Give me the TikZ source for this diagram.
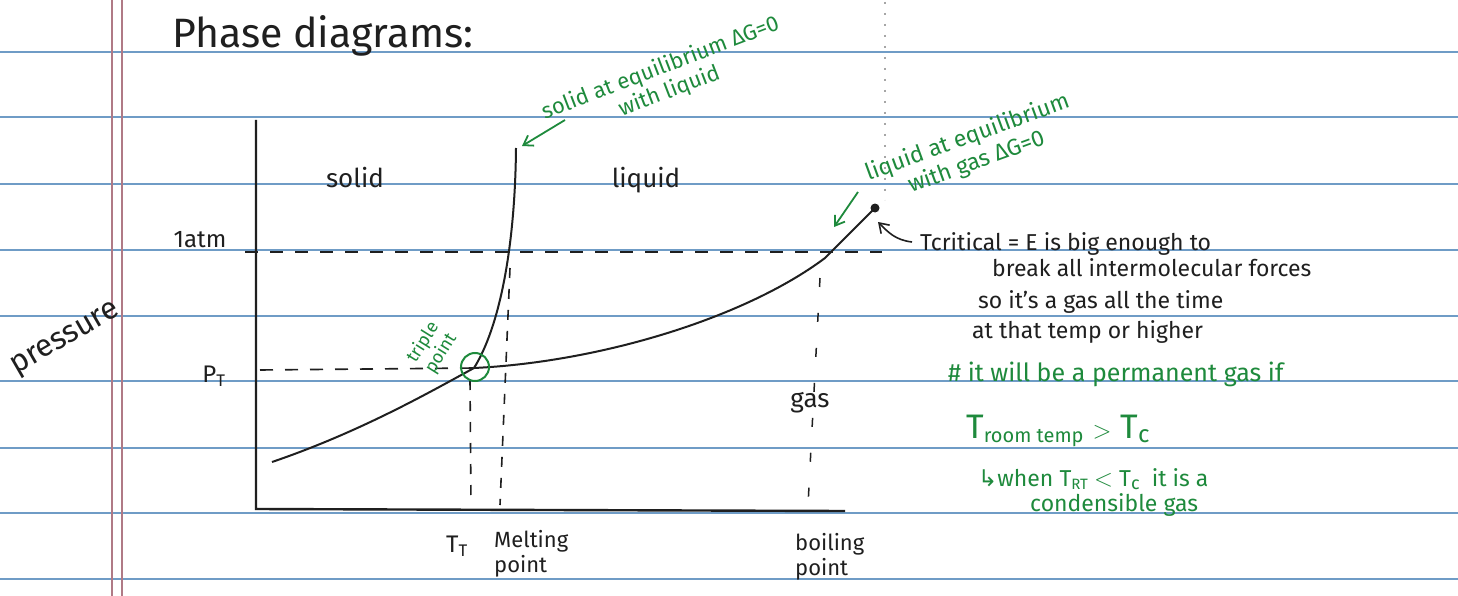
\documentclass[tikz,border=0pt]{standalone}
\usepackage{fontspec}
\setmainfont{Fira Sans}
\newfontfamily\symfont{DejaVu Sans}
\usetikzlibrary{arrows.meta}
\definecolor{rule}{HTML}{6F9CC6}
\definecolor{margin}{HTML}{B07A86}
\definecolor{pen}{HTML}{1F1F1F}
\definecolor{gpen}{HTML}{1E8A3C}
\tikzset{
  ruleline/.style={rule, line width=1.6pt},
  marginline/.style={margin, line width=1.3pt},
  axis/.style={pen, line width=2.4pt},
  curve/.style={pen, line width=2pt},
  guide/.style={pen, line width=1.6pt, dash pattern=on 13pt off 12pt},
  guidev/.style={pen, line width=1.6pt, dash pattern=on 10pt off 11pt},
  hand/.style={pen, inner sep=0pt, font=\fontsize{#1}{#1}\selectfont},
  ghand/.style={gpen, inner sep=0pt, font=\fontsize{#1}{#1}\selectfont},
  garrow/.style={gpen, line width=1.8pt, -{Straight Barb[length=9pt,width=12pt]}},
  barrow/.style={pen, line width=1.6pt, -{Straight Barb[length=9pt,width=12pt]}},
}
\begin{document}
\begin{tikzpicture}[x=1pt,y=-1pt]
\useasboundingbox (0,0) rectangle (1458,596);
\fill[white] (0,0) rectangle (1458,596);
% ruled paper
\foreach \yy in {52,117,184,250,316,381,448,513,579}
  \draw[ruleline] (0,\yy) -- (1458,\yy);
\draw[marginline] (112,0) -- (112,596);
\draw[marginline] (122,0) -- (122,596);
% faint dotted line
\draw[gray!70, line width=1.2pt, dash pattern=on 2pt off 9pt] (885,2) -- (885,200);
% title
\node[hand=41, anchor=base west] (title) at (172,48) {Phase diagrams:};
% axes
\coordinate (ytop) at (256,120);
\coordinate (org) at (256,509);
\coordinate (xend) at (845,511);
\draw[axis] (ytop) -- (org) -- (xend);
% points
\coordinate (tp) at (474,368);
\coordinate (cp) at (875,208);
\coordinate (subst) at (272,462);
\coordinate (fustop) at (516,148);
\coordinate (vapmid) at (825,258);
\draw[curve] (subst) .. controls (360,432) and (430,392) .. (tp);
\draw[curve] (tp) .. controls (499,328) and (515,250) .. (fustop);
\draw[curve] (tp) .. controls (600,362) and (745,318) .. (vapmid) -- (cp);
\fill[pen] (cp) circle (4.5);
% dashed guides
\coordinate (atmL) at (245,252);
\coordinate (atmR) at (882,252);
\draw[guide] (atmL) -- (atmR);
\coordinate (ptL) at (260,370);
\draw[guide] (ptL) -- (tp);
\coordinate (ttB) at (471,505);
\coordinate (ttT) at (470,380);
\draw[guidev] (ttT) -- (ttB);
\coordinate (mpT) at (510,268);
\coordinate (mpB) at (500,505);
\draw[guidev] (mpT) -- (mpB);
\coordinate (bpT) at (820,278);
\coordinate (bpB) at (808,505);
\draw[pen, line width=1.5pt, dash pattern=on 9pt off 26pt] (bpT) -- (bpB);
% triple point circle
\node[draw=gpen, line width=2pt, circle, minimum size=28pt, inner sep=0pt] (tpc) at (475,367) {};
\node[ghand=18, rotate=58, align=center] (tplab) at (432,348) {triple\\[3pt]point};
% axis labels
\node[hand=31, rotate=30] (press) at (66,340) {pressure};
\node[hand=24] (atm) at (200,240) {1atm};
\node[hand=24] (pt) at (214,376) {P$_\mathrm{T}$};
\node[hand=26] (solid) at (355,178) {solid};
\node[hand=26] (liquid) at (646,180) {liquid};
\node[hand=26] (gas) at (810,403) {gas};
\node[hand=24] (tt) at (457,546) {T$_\mathrm{T}$};
\node[hand=22, align=left, anchor=north west] (mp) at (494,530) {Melting\\[3pt]point};
\node[hand=22, align=left, anchor=north west] (bp) at (795,533) {boiling\\[3pt]point};
% green annotations
\node[ghand=22, rotate=21, align=center] (slab) at (665,80) {solid at equilibrium ΔG=0\\[3pt]with liquid};
\coordinate (sarrS) at (565,120);
\coordinate (sarrE) at (522,146);
\draw[garrow] (sarrS) -- (sarrE);
\node[ghand=23, rotate=20, align=center] (llab) at (972,150) {liquid at equilibrium\\[3pt]with gas ΔG=0};
\coordinate (larrS) at (858,192);
\coordinate (larrE) at (834,227);
\draw[garrow] (larrS) -- (larrE);
% critical text
\node[hand=23, anchor=base west] (tc) at (920,250) {Tcritical = E is big enough to};
\node[hand=23, anchor=base west] (l2) at (992,276) {break all intermolecular forces};
\node[hand=23, anchor=base west] (l3) at (978,308) {so it's a gas all the time};
\node[hand=23, anchor=base west] (l4) at (972,338) {at that temp or higher};
\coordinate (carr) at (912,242);
\draw[barrow] (carr) .. controls (895,240) and (888,232) .. (878,222);
\node[ghand=25, anchor=base west] (g1) at (948,381) {\# it will be a permanent gas if};
\node[ghand=34, anchor=base west] (g2) at (966,438) {T\raisebox{-4pt}{\fontsize{20}{20}\selectfont room temp} $>$ T\raisebox{-4pt}{\fontsize{24}{24}\selectfont c}};
\node[ghand=23, anchor=base west] (g3) at (978,486) {{\symfont ↳}when T\raisebox{-3pt}{\fontsize{15}{15}\selectfont RT} $<$ T\raisebox{-3pt}{\fontsize{18}{18}\selectfont c}\ \ it is a};
\node[ghand=23, anchor=base west] (g4) at (1030,511) {condensible gas};
\end{tikzpicture}
\end{document}
